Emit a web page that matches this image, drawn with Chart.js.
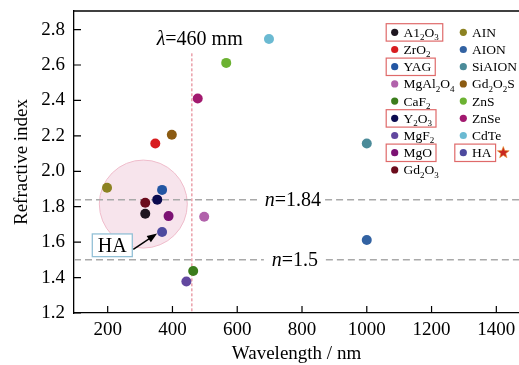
<!DOCTYPE html>
<html>
<head>
<meta charset="utf-8">
<script src="https://cdn.jsdelivr.net/npm/chart.js@4.4.1/dist/chart.umd.min.js"></script>
<style>
  html, body { margin: 0; padding: 0; background: #fff; }
  #wrap { width: 519px; height: 365px; }
</style>
</head>
<body>
<div id="wrap"><canvas id="scatterChart" width="519" height="365"></canvas></div>
<script>
// Refractive index vs wavelength of transparent ceramics

const FONT = '"Liberation Serif", "Times New Roman", serif';

// data ("_2" = subscript 2)
const materials = ["A1_2O_3", "ZrO_2", "YAG", "MgAl_2O_4", "CaF_2", "Y_2O_3", "MgF_2", "MgO", "Gd_2O_3",
                   "AIN", "AION", "SiAION", "Gd_2O_2S", "ZnS", "ZnSe", "CdTe", "HA"];
const wavelengths = [316, 347, 368, 498, 464, 353, 443, 388, 316, 198, 1000, 1000, 398, 566, 478, 698, 368];
const refIndex = [1.76, 2.157, 1.895, 1.743, 1.437, 1.84, 1.378, 1.747, 1.822,
                  1.907, 1.612, 2.157, 2.206, 2.612, 2.411, 2.747, 1.657];
const colors = ["#1e1620", "#d81c1f", "#2356a3", "#b162ab", "#3b7d1c", "#0b0b4f", "#62479f", "#7c1273", "#6b0b1c",
                "#8c8222", "#3262a2", "#4b8b99", "#8b5b12", "#6cb232", "#a2196f", "#6bbad2", "#4d4a9e"];
const highlighted = ["A1_2O_3", "YAG", "Y_2O_3", "MgO", "HA"];
const refLines = [1.84, 1.5];
const cutoffWavelength = 460;
const xTicks = [200, 400, 600, 800, 1000, 1200, 1400];
const yTicks = [1.2, 1.4, 1.6, 1.8, 2.0, 2.2, 2.4, 2.6, 2.8];

// text helpers
function parseLabel(str) {
    const segs = [];
    str.split(/(_\d)/).forEach(p => {
        if (!p) return;
        if (p[0] === "_") segs.push({ t: p.slice(1), s: "b" });
        else segs.push({ t: p, s: "n" });
    });
    return segs;
}

function segFont(s, size) {
    if (s === "b") return Math.round(size * 0.68) + "px " + FONT;
    return (s === "i" ? "italic " : "") + size + "px " + FONT;
}

function richWidth(ctx, segs, size) {
    let w = 0;
    segs.forEach(sg => { ctx.font = segFont(sg.s, size); w += ctx.measureText(sg.t).width; });
    return w;
}

// y is the baseline
function drawRich(ctx, segs, x, y, size, align) {
    const w = richWidth(ctx, segs, size);
    let cx = align === "center" ? x - w / 2 : x;
    ctx.textAlign = "left";
    ctx.textBaseline = "alphabetic";
    segs.forEach(sg => {
        ctx.font = segFont(sg.s, size);
        ctx.fillText(sg.t, cx, sg.s === "b" ? y + size * 0.26 : y);
        cx += ctx.measureText(sg.t).width;
    });
    return w;
}

// background decorations (under the points)
const decorPlugin = {
    id: "decor",
    beforeDatasetsDraw(chart) {
        const { ctx, chartArea: a, scales: { x, y } } = chart;
        ctx.save();

        // highlight circle round the cluster
        ctx.beginPath();
        ctx.arc(x.getPixelForValue(310), y.getPixelForValue(1.815), 44, 0, Math.PI * 2);
        ctx.fillStyle = "rgba(238, 196, 212, 0.45)";
        ctx.fill();
        ctx.strokeStyle = "#efbccb";
        ctx.lineWidth = 1;
        ctx.stroke();

        // dashed n lines with labels
        refLines.forEach((v, i) => {
            const py = y.getPixelForValue(v);
            const segs = [{ t: "n", s: "i" }, { t: "=" + v, s: "n" }];
            const cx = x.getPixelForValue(i === 0 ? 772 : 778);
            const w = richWidth(ctx, segs, 20);
            const gap = Math.max(w + 8, 62);
            ctx.strokeStyle = "#a9a9a9";
            ctx.lineWidth = 1.5;
            ctx.setLineDash([7, 4]);
            ctx.beginPath();
            ctx.moveTo(a.left, py);
            ctx.lineTo(cx - gap / 2, py);
            ctx.moveTo(cx + gap / 2, py);
            ctx.lineTo(a.right, py);
            ctx.stroke();
            ctx.setLineDash([]);
            ctx.fillStyle = "#000";
            drawRich(ctx, segs, cx, py + 6.5, 20, "center");
        });

        // cutoff wavelength line
        const lx = x.getPixelForValue(cutoffWavelength);
        ctx.strokeStyle = "#e0707f";
        ctx.lineWidth = 1;
        ctx.setLineDash([3, 2]);
        ctx.beginPath();
        ctx.moveTo(lx, y.getPixelForValue(2.666));
        ctx.lineTo(lx, a.bottom);
        ctx.stroke();
        ctx.setLineDash([]);
        ctx.fillStyle = "#000";
        drawRich(ctx, [{ t: "λ", s: "i" }, { t: "=" + cutoffWavelength + " mm", s: "n" }],
            x.getPixelForValue(484), y.getPixelForValue(2.75) + 6.5, 20, "center");

        // top frame line
        ctx.strokeStyle = "#000";
        ctx.lineWidth = 1.3;
        ctx.beginPath();
        ctx.moveTo(a.left, a.top);
        ctx.lineTo(a.right, a.top);
        ctx.stroke();
        ctx.restore();
    },
    afterDraw(chart) {
        const { ctx, chartArea: a, scales: { x, y } } = chart;
        ctx.save();

        // inward tick marks
        ctx.strokeStyle = "#000";
        ctx.lineWidth = 1.2;
        ctx.beginPath();
        x.ticks.forEach(t => {
            const px = x.getPixelForValue(t.value);
            ctx.moveTo(px, a.bottom);
            ctx.lineTo(px, a.bottom - 7);
        });
        y.ticks.forEach(t => {
            const py = y.getPixelForValue(t.value);
            ctx.moveTo(a.left, py);
            ctx.lineTo(a.left + 7, py);
        });
        ctx.stroke();

        // HA callout box and arrow
        const hx = x.getPixelForValue(wavelengths[16]);
        const hy = y.getPixelForValue(refIndex[16]);
        const bx = x.getPixelForValue(152.5), by = y.getPixelForValue(1.582);
        ctx.fillStyle = "#fff";
        ctx.fillRect(bx, by - 11.4, 40, 22.7);
        ctx.strokeStyle = "#93c0d6";
        ctx.lineWidth = 1.3;
        ctx.strokeRect(bx, by - 11.4, 40, 22.7);
        ctx.fillStyle = "#000";
        drawRich(ctx, [{ t: "HA", s: "n" }], bx + 20, by + 7, 20, "center");

        const sx = bx + 41, sy = by + 4;
        const tx = hx - 5, ty = hy + 1.5;
        const ang = Math.atan2(ty - sy, tx - sx);
        ctx.strokeStyle = "#000";
        ctx.lineWidth = 1.4;
        ctx.beginPath();
        ctx.moveTo(sx, sy);
        ctx.lineTo(tx - 7 * Math.cos(ang), ty - 7 * Math.sin(ang));
        ctx.stroke();
        ctx.beginPath();
        ctx.moveTo(tx, ty);
        ctx.lineTo(tx - 10 * Math.cos(ang) + 3.8 * Math.sin(ang), ty - 10 * Math.sin(ang) - 3.8 * Math.cos(ang));
        ctx.lineTo(tx - 10 * Math.cos(ang) - 3.8 * Math.sin(ang), ty - 10 * Math.sin(ang) + 3.8 * Math.cos(ang));
        ctx.closePath();
        ctx.fill();

        // two-column legend
        materials.forEach((m, i) => {
            const col = i < 9 ? 0 : 1;
            const row = col === 0 ? i : i - 9;
            const mx = col === 0 ? 394.7 : 463.3;
            const my = 32.3 + row * 17.2;
            ctx.beginPath();
            ctx.arc(mx, my, 3.6, 0, Math.PI * 2);
            ctx.fillStyle = colors[i];
            ctx.fill();
            ctx.fillStyle = "#000";
            const w = drawRich(ctx, parseLabel(m), mx + 8.8, my + 4.4, 13.5, "left");
            if (highlighted.includes(m)) {
                ctx.strokeStyle = "#df6a6a";
                ctx.lineWidth = 1.2;
                ctx.strokeRect(mx - 8.5, my - 8.6, w + 8.8 + 8.5 + 4, 17.4);
            }
            if (m === "HA") {
                // star marker
                const cx = 503.3, cy = my;
                ctx.beginPath();
                for (let k = 0; k < 10; k++) {
                    const r = k % 2 === 0 ? 6.2 : 2.6;
                    const a2 = -Math.PI / 2 + k * Math.PI / 5;
                    ctx.lineTo(cx + r * Math.cos(a2), cy + r * Math.sin(a2));
                }
                ctx.closePath();
                ctx.fillStyle = "#c9281f";
                ctx.fill();
                ctx.strokeStyle = "#e8942a";
                ctx.lineWidth = 0.6;
                ctx.stroke();
            }
        });
        ctx.restore();
    },
};

// setup
const data = {
    datasets: materials.map((m, i) => ({
        label: m.replace(/_/g, ""),
        data: [{ x: wavelengths[i], y: refIndex[i] }],
        backgroundColor: colors[i],
        borderColor: colors[i],
        borderWidth: 0,
        pointRadius: 5,
        pointHoverRadius: 5,
    })),
};

//config
const config = {
    type: "scatter",
    data: data,
    options: {
        responsive: false,
        animation: false,
        layout: { autoPadding: false, padding: { top: 11, left: 0, right: 0, bottom: 0 } },
        scales: {
            x: {
                type: "linear",
                min: 96,
                max: 1470,
                afterBuildTicks: (s) => { s.ticks = xTicks.map(v => ({ value: v })); },
                afterFit: (s) => { s.height = 52; s.paddingLeft = 0; s.paddingRight = 0; },
                grid: { drawOnChartArea: false, drawTicks: false },
                border: { display: true, color: "#000", width: 1.3 },
                ticks: {
                    color: "#000",
                    padding: 6,
                    font: { family: FONT, size: 19 },
                    callback: (v) => v,
                },
                title: {
                    display: true,
                    text: "Wavelength / nm",
                    color: "#000",
                    font: { family: FONT, size: 19 },
                    padding: { top: 0, bottom: 0 },
                },
            },
            y: {
                min: 1.2,
                max: 2.905,
                afterBuildTicks: (s) => { s.ticks = yTicks.map(v => ({ value: v })); },
                afterFit: (s) => { s.width = 74; s.paddingTop = 0; s.paddingBottom = 0; },
                grid: { drawOnChartArea: false, drawTicks: false },
                border: { display: true, color: "#000", width: 1.3 },
                ticks: {
                    color: "#000",
                    padding: 9,
                    font: { family: FONT, size: 19 },
                    callback: (v) => Number(v).toFixed(1),
                },
                title: {
                    display: true,
                    text: "Refractive index",
                    color: "#000",
                    font: { family: FONT, size: 19 },
                    padding: { top: 11, bottom: 0 },
                },
            },
        },
        plugins: {
            legend: { display: false },
            tooltip: { enabled: true },
        },
    },
    plugins: [decorPlugin],
};

//render init block
const scatterChart = new Chart(document.getElementById("scatterChart").getContext("2d"), config);
</script>
</body>
</html>
